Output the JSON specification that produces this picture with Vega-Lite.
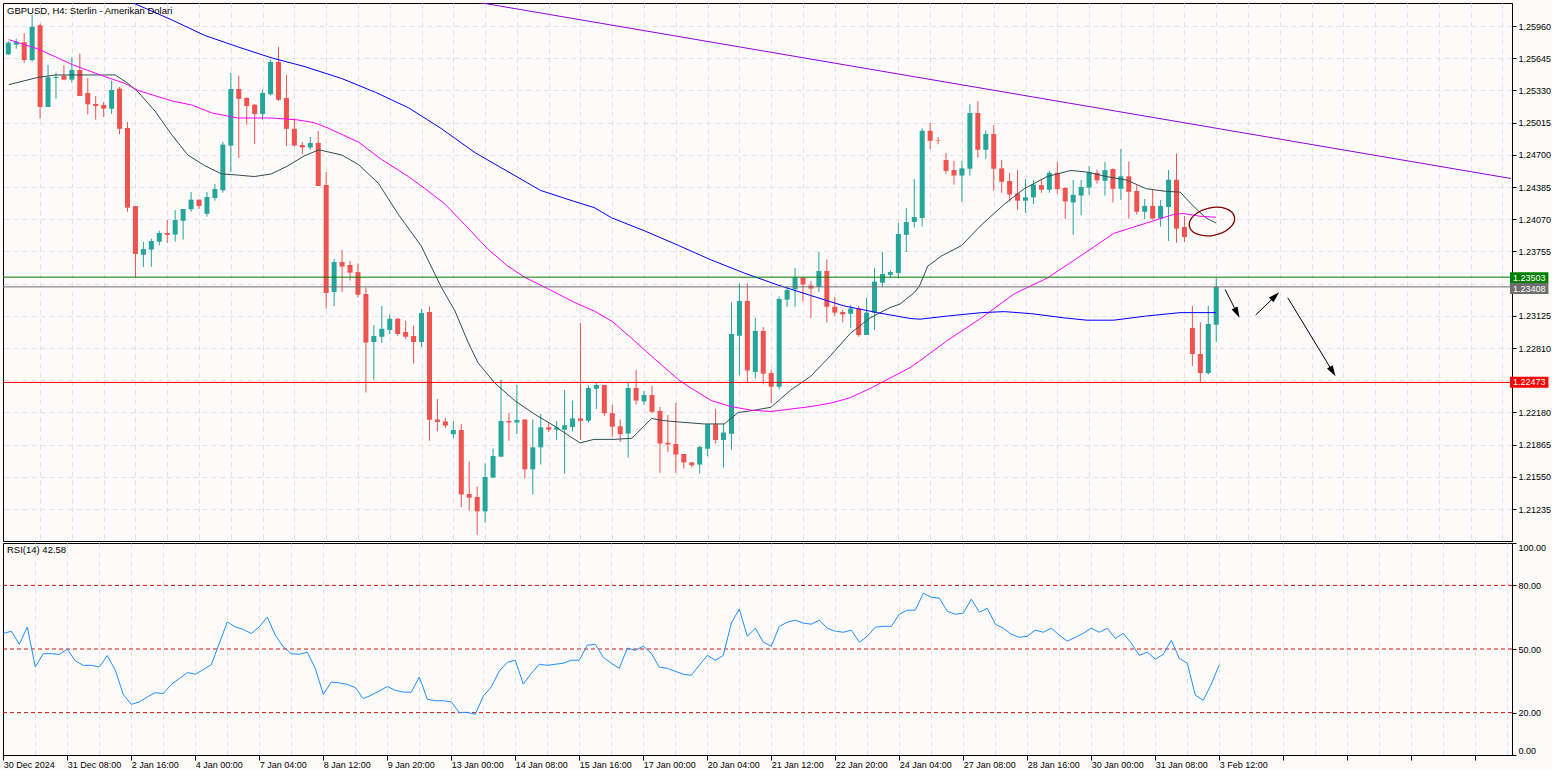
{
"$schema": "https://vega.github.io/schema/vega-lite/v6.json",
"background": "#fdfafa",
"padding": {"left": 0, "top": 2, "right": 0, "bottom": 0},
"spacing": 0,
"config": {
  "view": {"stroke": "#000000", "strokeWidth": 1, "fill": "#fdfafa"},
  "font": "Liberation Sans",
  "axis": {"labelFont": "Liberation Sans", "labelFontSize": 9, "labelColor": "#000000", "tickColor": "#000000", "domainColor": "#000000", "gridColor": "#e4e0e8", "gridDash": [5, 4], "gridWidth": 1, "labelOverlap": false, "labelBound": false, "tickCount": 200}
},
"datasets": {
  "candles": [
{"i":0,"o":1.25683,"h":1.25813,"l":1.25676,"c":1.25797},
{"i":1,"o":1.25777,"h":1.25836,"l":1.25738,"c":1.25806},
{"i":2,"o":1.25801,"h":1.25889,"l":1.25601,"c":1.25627},
{"i":3,"o":1.25627,"h":1.26068,"l":1.25611,"c":1.25953},
{"i":4,"o":1.25967,"h":1.25983,"l":1.25053,"c":1.25168},
{"i":5,"o":1.25168,"h":1.25579,"l":1.25168,"c":1.25458},
{"i":6,"o":1.25451,"h":1.25503,"l":1.25249,"c":1.25461},
{"i":7,"o":1.25474,"h":1.25576,"l":1.25429,"c":1.25435},
{"i":8,"o":1.25435,"h":1.25654,"l":1.25405,"c":1.2553},
{"i":9,"o":1.2553,"h":1.25689,"l":1.25275,"c":1.25275},
{"i":10,"o":1.25305,"h":1.25451,"l":1.25096,"c":1.25194},
{"i":11,"o":1.25197,"h":1.25275,"l":1.25043,"c":1.25177},
{"i":12,"o":1.25187,"h":1.25217,"l":1.2507,"c":1.25151},
{"i":13,"o":1.25151,"h":1.25425,"l":1.25099,"c":1.25334},
{"i":14,"o":1.25347,"h":1.25363,"l":1.24901,"c":1.24955},
{"i":15,"o":1.24962,"h":1.25021,"l":1.24143,"c":1.24183},
{"i":16,"o":1.24199,"h":1.24199,"l":1.23504,"c":1.2373},
{"i":17,"o":1.23722,"h":1.23847,"l":1.23602,"c":1.23778},
{"i":18,"o":1.23773,"h":1.2388,"l":1.23604,"c":1.23857},
{"i":19,"o":1.2385,"h":1.23957,"l":1.23813,"c":1.23935},
{"i":20,"o":1.23935,"h":1.24062,"l":1.23837,"c":1.23917},
{"i":21,"o":1.2392,"h":1.2416,"l":1.2385,"c":1.24062},
{"i":22,"o":1.24055,"h":1.2417,"l":1.2387,"c":1.2417},
{"i":23,"o":1.24167,"h":1.24336,"l":1.24143,"c":1.24261},
{"i":24,"o":1.24261,"h":1.24261,"l":1.2417,"c":1.24199},
{"i":25,"o":1.24123,"h":1.24336,"l":1.24095,"c":1.24287},
{"i":26,"o":1.24277,"h":1.24414,"l":1.24251,"c":1.24365},
{"i":27,"o":1.24352,"h":1.24825,"l":1.24331,"c":1.248},
{"i":28,"o":1.2479,"h":1.255,"l":1.24532,"c":1.25344},
{"i":29,"o":1.25344,"h":1.25474,"l":1.24669,"c":1.25248},
{"i":30,"o":1.25256,"h":1.25262,"l":1.24992,"c":1.25177},
{"i":31,"o":1.2519,"h":1.25197,"l":1.24806,"c":1.25099},
{"i":32,"o":1.25099,"h":1.25339,"l":1.25042,"c":1.25305},
{"i":33,"o":1.25292,"h":1.25632,"l":1.25278,"c":1.25608},
{"i":34,"o":1.25608,"h":1.25755,"l":1.25227,"c":1.25238},
{"i":35,"o":1.25256,"h":1.25481,"l":1.24786,"c":1.24954},
{"i":36,"o":1.24954,"h":1.25056,"l":1.24779,"c":1.2479},
{"i":37,"o":1.24796,"h":1.24825,"l":1.24708,"c":1.24772},
{"i":38,"o":1.24772,"h":1.24874,"l":1.24749,"c":1.24815},
{"i":39,"o":1.24816,"h":1.24933,"l":1.24395,"c":1.24395},
{"i":40,"o":1.24405,"h":1.24532,"l":1.23196,"c":1.23348},
{"i":41,"o":1.23358,"h":1.23681,"l":1.23221,"c":1.23651},
{"i":42,"o":1.23651,"h":1.23769,"l":1.23358,"c":1.23607},
{"i":43,"o":1.23622,"h":1.23661,"l":1.23469,"c":1.23547},
{"i":44,"o":1.23553,"h":1.23638,"l":1.23304,"c":1.23331},
{"i":45,"o":1.23338,"h":1.23402,"l":1.22375,"c":1.22863},
{"i":46,"o":1.22869,"h":1.23035,"l":1.22499,"c":1.22927},
{"i":47,"o":1.2292,"h":1.23221,"l":1.22863,"c":1.22998},
{"i":48,"o":1.22987,"h":1.23139,"l":1.22944,"c":1.23096},
{"i":49,"o":1.23096,"h":1.23105,"l":1.2293,"c":1.22947},
{"i":50,"o":1.22966,"h":1.23074,"l":1.229,"c":1.2292},
{"i":51,"o":1.22927,"h":1.23031,"l":1.22657,"c":1.22869},
{"i":52,"o":1.22869,"h":1.23192,"l":1.2282,"c":1.23152},
{"i":53,"o":1.23162,"h":1.23213,"l":1.21903,"c":1.22108},
{"i":54,"o":1.22111,"h":1.22311,"l":1.21994,"c":1.22086},
{"i":55,"o":1.22091,"h":1.22128,"l":1.22027,"c":1.22051},
{"i":56,"o":1.21967,"h":1.22096,"l":1.21926,"c":1.22008},
{"i":57,"o":1.22008,"h":1.22067,"l":1.21254,"c":1.21377},
{"i":58,"o":1.21382,"h":1.21701,"l":1.21219,"c":1.21346},
{"i":59,"o":1.21353,"h":1.21455,"l":1.20983,"c":1.21212},
{"i":60,"o":1.21212,"h":1.2168,"l":1.21101,"c":1.21548},
{"i":61,"o":1.21542,"h":1.21825,"l":1.21542,"c":1.21753},
{"i":62,"o":1.21747,"h":1.22499,"l":1.21747,"c":1.22096},
{"i":63,"o":1.22096,"h":1.22174,"l":1.21903,"c":1.22081},
{"i":64,"o":1.22081,"h":1.22448,"l":1.21969,"c":1.22106},
{"i":65,"o":1.22111,"h":1.22111,"l":1.21532,"c":1.21623},
{"i":66,"o":1.21623,"h":1.22111,"l":1.21377,"c":1.21838},
{"i":67,"o":1.21838,"h":1.22164,"l":1.2167,"c":1.22034},
{"i":68,"o":1.22034,"h":1.22078,"l":1.21988,"c":1.22011},
{"i":69,"o":1.22011,"h":1.22096,"l":1.2191,"c":1.22034},
{"i":70,"o":1.22011,"h":1.22399,"l":1.21582,"c":1.22055},
{"i":71,"o":1.22037,"h":1.22296,"l":1.21994,"c":1.22121},
{"i":72,"o":1.22121,"h":1.23054,"l":1.2191,"c":1.22098},
{"i":73,"o":1.22098,"h":1.22442,"l":1.22081,"c":1.22419},
{"i":74,"o":1.22412,"h":1.22466,"l":1.22213,"c":1.22448},
{"i":75,"o":1.22448,"h":1.22448,"l":1.22145,"c":1.22172},
{"i":76,"o":1.22172,"h":1.22256,"l":1.21943,"c":1.22041},
{"i":77,"o":1.22044,"h":1.22111,"l":1.21892,"c":1.21967},
{"i":78,"o":1.21973,"h":1.22477,"l":1.21738,"c":1.22419},
{"i":79,"o":1.22419,"h":1.22597,"l":1.22256,"c":1.22296},
{"i":80,"o":1.22287,"h":1.22389,"l":1.22256,"c":1.2235},
{"i":81,"o":1.2235,"h":1.22442,"l":1.22172,"c":1.22186},
{"i":82,"o":1.22194,"h":1.22233,"l":1.21589,"c":1.21876},
{"i":83,"o":1.21882,"h":1.22154,"l":1.21792,"c":1.21866},
{"i":84,"o":1.21871,"h":1.22272,"l":1.21589,"c":1.21768},
{"i":85,"o":1.21773,"h":1.21773,"l":1.2163,"c":1.21691},
{"i":86,"o":1.21691,"h":1.21691,"l":1.2164,"c":1.21663},
{"i":87,"o":1.2167,"h":1.21851,"l":1.21582,"c":1.21841},
{"i":88,"o":1.21825,"h":1.22064,"l":1.21751,"c":1.22064},
{"i":89,"o":1.22064,"h":1.22213,"l":1.21876,"c":1.2191},
{"i":90,"o":1.2191,"h":1.22064,"l":1.2164,"c":1.21983},
{"i":91,"o":1.21971,"h":1.23257,"l":1.21815,"c":1.22947},
{"i":92,"o":1.2293,"h":1.23442,"l":1.22543,"c":1.2327},
{"i":93,"o":1.2327,"h":1.23442,"l":1.22466,"c":1.2259},
{"i":94,"o":1.22576,"h":1.23105,"l":1.22509,"c":1.22977},
{"i":95,"o":1.22977,"h":1.23015,"l":1.22455,"c":1.22559},
{"i":96,"o":1.22565,"h":1.22597,"l":1.22273,"c":1.22431},
{"i":97,"o":1.22431,"h":1.23314,"l":1.22405,"c":1.2329},
{"i":98,"o":1.23283,"h":1.23409,"l":1.23213,"c":1.23377},
{"i":99,"o":1.23385,"h":1.23594,"l":1.23213,"c":1.235},
{"i":100,"o":1.235,"h":1.235,"l":1.23267,"c":1.23432},
{"i":101,"o":1.23422,"h":1.23465,"l":1.23105,"c":1.23392},
{"i":102,"o":1.23409,"h":1.23749,"l":1.23358,"c":1.23563},
{"i":103,"o":1.23563,"h":1.23678,"l":1.23061,"c":1.23213},
{"i":104,"o":1.23213,"h":1.23309,"l":1.23123,"c":1.23156},
{"i":105,"o":1.23162,"h":1.23182,"l":1.23061,"c":1.23139},
{"i":106,"o":1.23145,"h":1.23231,"l":1.23006,"c":1.23196},
{"i":107,"o":1.23196,"h":1.23221,"l":1.2292,"c":1.22937},
{"i":108,"o":1.22937,"h":1.23301,"l":1.22937,"c":1.23156},
{"i":109,"o":1.23156,"h":1.23594,"l":1.22987,"c":1.23459},
{"i":110,"o":1.23449,"h":1.23749,"l":1.23409,"c":1.23534},
{"i":111,"o":1.23526,"h":1.2357,"l":1.235,"c":1.23553},
{"i":112,"o":1.23544,"h":1.24033,"l":1.23493,"c":1.23925},
{"i":113,"o":1.23917,"h":1.2418,"l":1.23749,"c":1.24043},
{"i":114,"o":1.24043,"h":1.24463,"l":1.23988,"c":1.24091},
{"i":115,"o":1.24082,"h":1.24958,"l":1.23999,"c":1.24935},
{"i":116,"o":1.24935,"h":1.25011,"l":1.24757,"c":1.24837},
{"i":117,"o":1.24845,"h":1.24874,"l":1.24803,"c":1.2484},
{"i":118,"o":1.24649,"h":1.24719,"l":1.24513,"c":1.24543},
{"i":119,"o":1.24551,"h":1.24639,"l":1.24409,"c":1.24497},
{"i":120,"o":1.24497,"h":1.24639,"l":1.2424,"c":1.24567},
{"i":121,"o":1.24564,"h":1.25194,"l":1.24497,"c":1.25109},
{"i":122,"o":1.25109,"h":1.25224,"l":1.24672,"c":1.24749},
{"i":123,"o":1.24749,"h":1.24938,"l":1.24659,"c":1.24903},
{"i":124,"o":1.24903,"h":1.24992,"l":1.24349,"c":1.24564},
{"i":125,"o":1.24567,"h":1.24649,"l":1.24328,"c":1.24436},
{"i":126,"o":1.24444,"h":1.24522,"l":1.24244,"c":1.24312},
{"i":127,"o":1.24321,"h":1.24551,"l":1.24163,"c":1.24251},
{"i":128,"o":1.24251,"h":1.24463,"l":1.24133,"c":1.24284},
{"i":129,"o":1.24284,"h":1.24453,"l":1.24219,"c":1.24409},
{"i":130,"o":1.24403,"h":1.24453,"l":1.24328,"c":1.24359},
{"i":131,"o":1.24359,"h":1.24543,"l":1.24328,"c":1.24524},
{"i":132,"o":1.24524,"h":1.24634,"l":1.24318,"c":1.24365},
{"i":133,"o":1.24375,"h":1.24385,"l":1.24072,"c":1.24244},
{"i":134,"o":1.24234,"h":1.24453,"l":1.23917,"c":1.24308},
{"i":135,"o":1.24301,"h":1.24453,"l":1.24109,"c":1.24385},
{"i":136,"o":1.24379,"h":1.2459,"l":1.24308,"c":1.24532},
{"i":137,"o":1.24524,"h":1.24554,"l":1.24419,"c":1.2445},
{"i":138,"o":1.24446,"h":1.2463,"l":1.24301,"c":1.24551},
{"i":139,"o":1.24561,"h":1.24567,"l":1.24234,"c":1.24368},
{"i":140,"o":1.24368,"h":1.24757,"l":1.24258,"c":1.2449},
{"i":141,"o":1.2449,"h":1.24634,"l":1.24076,"c":1.24338},
{"i":142,"o":1.24346,"h":1.24403,"l":1.24116,"c":1.24143},
{"i":143,"o":1.24143,"h":1.24268,"l":1.24069,"c":1.242},
{"i":144,"o":1.242,"h":1.24359,"l":1.24065,"c":1.24076},
{"i":145,"o":1.24076,"h":1.24258,"l":1.23999,"c":1.242},
{"i":146,"o":1.24189,"h":1.24551,"l":1.23857,"c":1.24456},
{"i":147,"o":1.24456,"h":1.24713,"l":1.2384,"c":1.23978},
{"i":148,"o":1.23994,"h":1.24101,"l":1.23847,"c":1.23896},
{"i":149,"o":1.23006,"h":1.23223,"l":1.22634,"c":1.22751},
{"i":150,"o":1.22751,"h":1.23061,"l":1.22475,"c":1.22565},
{"i":151,"o":1.22565,"h":1.23223,"l":1.2255,"c":1.23045},
{"i":152,"o":1.23038,"h":1.23493,"l":1.22869,"c":1.23409}
  ],
  "ma": [
{"ma":"a","i":0.05,"v":1.25386},{"ma":"a","i":3.71,"v":1.25457},{"ma":"a","i":5.96,"v":1.25481},{"ma":"a","i":13.46,"v":1.25481},{"ma":"a","i":15.09,"v":1.25397},{"ma":"a","i":16.34,"v":1.25314},{"ma":"a","i":18.46,"v":1.25128},{"ma":"a","i":20.59,"v":1.24894},{"ma":"a","i":22.59,"v":1.24698},{"ma":"a","i":24.71,"v":1.24594},{"ma":"a","i":26.84,"v":1.24513},{"ma":"a","i":28.84,"v":1.24502},{"ma":"a","i":30.96,"v":1.24487},{"ma":"a","i":33.09,"v":1.24513},{"ma":"a","i":35.09,"v":1.24588},{"ma":"a","i":37.21,"v":1.24688},{"ma":"a","i":39.09,"v":1.24749},{"ma":"a","i":41.96,"v":1.24698},{"ma":"a","i":44.09,"v":1.24604},{"ma":"a","i":46.59,"v":1.24419},{"ma":"a","i":49.09,"v":1.24116},{"ma":"a","i":51.96,"v":1.23808},{"ma":"a","i":54.46,"v":1.23409},{"ma":"a","i":56.21,"v":1.23172},{"ma":"a","i":57.84,"v":1.22869},{"ma":"a","i":59.09,"v":1.22667},{"ma":"a","i":61.21,"v":1.22468},{"ma":"a","i":63.71,"v":1.22296},{"ma":"a","i":66.21,"v":1.22164},{"ma":"a","i":68.71,"v":1.22047},{"ma":"a","i":70.71,"v":1.21943},{"ma":"a","i":71.96,"v":1.21882},{"ma":"a","i":73.71,"v":1.21916},{"ma":"a","i":76.21,"v":1.21916},{"ma":"a","i":78.46,"v":1.21927},{"ma":"a","i":80.96,"v":1.22121},{"ma":"a","i":82.21,"v":1.22102},{"ma":"a","i":84.34,"v":1.22086},{"ma":"a","i":87.59,"v":1.22067},{"ma":"a","i":90.09,"v":1.22067},{"ma":"a","i":91.84,"v":1.22179},{"ma":"a","i":93.46,"v":1.22196},{"ma":"a","i":95.96,"v":1.2223},{"ma":"a","i":98.46,"v":1.22399},{"ma":"a","i":100.96,"v":1.22533},{"ma":"a","i":103.46,"v":1.22735},{"ma":"a","i":105.96,"v":1.22954},{"ma":"a","i":108.46,"v":1.23105},{"ma":"a","i":110.96,"v":1.23206},{"ma":"a","i":112.21,"v":1.2324},{"ma":"a","i":114.09,"v":1.23358},{"ma":"a","i":114.71,"v":1.23426},{"ma":"a","i":115.71,"v":1.23612},{"ma":"a","i":117.46,"v":1.23712},{"ma":"a","i":119.96,"v":1.23813},{"ma":"a","i":122.46,"v":1.24015},{"ma":"a","i":125.34,"v":1.24217},{"ma":"a","i":127.84,"v":1.24368},{"ma":"a","i":130.71,"v":1.24487},{"ma":"a","i":133.71,"v":1.24547},{"ma":"a","i":135.71,"v":1.24531},{"ma":"a","i":138.21,"v":1.24487},{"ma":"a","i":140.71,"v":1.24453},{"ma":"a","i":143.21,"v":1.24368},{"ma":"a","i":145.71,"v":1.24342},{"ma":"a","i":147.46,"v":1.24335},{"ma":"a","i":149.09,"v":1.242},{"ma":"a","i":150.71,"v":1.24082},{"ma":"a","i":151.96,"v":1.24033},
{"ma":"b","i":0.05,"v":1.25827},{"ma":"b","i":3.84,"v":1.25733},{"ma":"b","i":8.09,"v":1.25581},{"ma":"b","i":12.21,"v":1.25463},{"ma":"b","i":14.71,"v":1.25397},{"ma":"b","i":16.34,"v":1.25329},{"ma":"b","i":20.59,"v":1.25227},{"ma":"b","i":23.09,"v":1.25187},{"ma":"b","i":25.59,"v":1.2511},{"ma":"b","i":28.84,"v":1.2506},{"ma":"b","i":33.09,"v":1.2506},{"ma":"b","i":36.34,"v":1.25042},{"ma":"b","i":38.46,"v":1.25015},{"ma":"b","i":40.34,"v":1.24958},{"ma":"b","i":44.09,"v":1.24823},{"ma":"b","i":46.96,"v":1.24655},{"ma":"b","i":50.34,"v":1.24487},{"ma":"b","i":52.46,"v":1.24368},{"ma":"b","i":54.96,"v":1.24217},{"ma":"b","i":57.46,"v":1.24015},{"ma":"b","i":60.34,"v":1.23778},{"ma":"b","i":62.84,"v":1.23612},{"ma":"b","i":64.96,"v":1.23503},{"ma":"b","i":67.84,"v":1.23392},{"ma":"b","i":71.21,"v":1.23257},{"ma":"b","i":73.71,"v":1.23172},{"ma":"b","i":75.96,"v":1.23072},{"ma":"b","i":78.46,"v":1.22903},{"ma":"b","i":81.34,"v":1.22702},{"ma":"b","i":84.34,"v":1.22499},{"ma":"b","i":85.96,"v":1.22415},{"ma":"b","i":88.46,"v":1.22296},{"ma":"b","i":90.96,"v":1.22237},{"ma":"b","i":93.46,"v":1.22202},{"ma":"b","i":95.96,"v":1.22189},{"ma":"b","i":98.46,"v":1.22213},{"ma":"b","i":100.96,"v":1.22237},{"ma":"b","i":103.46,"v":1.2227},{"ma":"b","i":105.96,"v":1.22324},{"ma":"b","i":108.46,"v":1.22415},{"ma":"b","i":110.96,"v":1.22516},{"ma":"b","i":113.46,"v":1.22617},{"ma":"b","i":114.71,"v":1.22685},{"ma":"b","i":118.21,"v":1.22886},{"ma":"b","i":122.46,"v":1.23105},{"ma":"b","i":126.59,"v":1.23341},{"ma":"b","i":130.71,"v":1.23493},{"ma":"b","i":134.96,"v":1.23712},{"ma":"b","i":139.09,"v":1.23931},{"ma":"b","i":143.21,"v":1.24032},{"ma":"b","i":146.59,"v":1.24116},{"ma":"b","i":147.84,"v":1.24126},{"ma":"b","i":149.96,"v":1.24099},{"ma":"b","i":151.96,"v":1.24089},
{"ma":"c","i":12.21,"v":1.26302},{"ma":"c","i":15.96,"v":1.26177},{"ma":"c","i":20.59,"v":1.26019},{"ma":"c","i":24.71,"v":1.25868},{"ma":"c","i":28.84,"v":1.25757},{"ma":"c","i":33.09,"v":1.25649},{"ma":"c","i":37.21,"v":1.25565},{"ma":"c","i":41.96,"v":1.25446},{"ma":"c","i":46.21,"v":1.25311},{"ma":"c","i":50.34,"v":1.25161},{"ma":"c","i":54.46,"v":1.24958},{"ma":"c","i":58.71,"v":1.24722},{"ma":"c","i":62.84,"v":1.24537},{"ma":"c","i":66.96,"v":1.24352},{"ma":"c","i":71.21,"v":1.24244},{"ma":"c","i":73.71,"v":1.24184},{"ma":"c","i":75.96,"v":1.24082},{"ma":"c","i":80.09,"v":1.23955},{"ma":"c","i":84.34,"v":1.23813},{"ma":"c","i":88.46,"v":1.23671},{"ma":"c","i":92.59,"v":1.23544},{"ma":"c","i":96.84,"v":1.23426},{"ma":"c","i":100.96,"v":1.23324},{"ma":"c","i":105.09,"v":1.23223},{"ma":"c","i":109.34,"v":1.23156},{"ma":"c","i":113.46,"v":1.23099},{"ma":"c","i":114.71,"v":1.23092},{"ma":"c","i":118.21,"v":1.23123},{"ma":"c","i":122.46,"v":1.23156},{"ma":"c","i":125.34,"v":1.23166},{"ma":"c","i":128.71,"v":1.23146},{"ma":"c","i":132.84,"v":1.23105},{"ma":"c","i":135.71,"v":1.23082},{"ma":"c","i":139.09,"v":1.23082},{"ma":"c","i":143.21,"v":1.23123},{"ma":"c","i":147.46,"v":1.23156},{"ma":"c","i":151.96,"v":1.23156}
  ],
  "rsi": [
{"i":0,"rsi":57.3},{"i":1,"rsi":58.4},{"i":2,"rsi":52.2},{"i":3,"rsi":60.4},{"i":4,"rsi":41.5},{"i":5,"rsi":47.8},{"i":6,"rsi":47.8},{"i":7,"rsi":47.4},{"i":8,"rsi":49.9},{"i":9,"rsi":44.4},
{"i":10,"rsi":42.3},{"i":11,"rsi":42.3},{"i":12,"rsi":41.5},{"i":13,"rsi":46.9},{"i":14,"rsi":40},{"i":15,"rsi":28.5},{"i":16,"rsi":23.9},{"i":17,"rsi":25},{"i":18,"rsi":27.4},{"i":19,"rsi":29.4},
{"i":20,"rsi":29},{"i":21,"rsi":33.3},{"i":22,"rsi":36},{"i":23,"rsi":38.9},{"i":24,"rsi":38.1},{"i":25,"rsi":40.3},{"i":26,"rsi":42.6},{"i":27,"rsi":52.6},{"i":28,"rsi":62.8},{"i":29,"rsi":60.4},
{"i":30,"rsi":59.2},{"i":31,"rsi":57.3},{"i":32,"rsi":60.4},{"i":33,"rsi":65.1},{"i":34,"rsi":56.5},{"i":35,"rsi":51},{"i":36,"rsi":47.8},{"i":37,"rsi":47.5},{"i":38,"rsi":48.5},{"i":39,"rsi":40.8},
{"i":40,"rsi":28.6},{"i":41,"rsi":34.4},{"i":42,"rsi":34},{"i":43,"rsi":33.3},{"i":44,"rsi":31.8},{"i":45,"rsi":26.6},{"i":46,"rsi":28.2},{"i":47,"rsi":30.2},{"i":48,"rsi":32.3},{"i":49,"rsi":30.5},
{"i":50,"rsi":29.7},{"i":51,"rsi":29.6},{"i":52,"rsi":36.8},{"i":53,"rsi":26.3},{"i":54,"rsi":25.6},{"i":55,"rsi":25.6},{"i":56,"rsi":25},{"i":57,"rsi":20.1},{"i":58,"rsi":20.1},{"i":59,"rsi":19.2},
{"i":60,"rsi":27.8},{"i":61,"rsi":32.1},{"i":62,"rsi":39.6},{"i":63,"rsi":43.7},{"i":64,"rsi":44.7},{"i":65,"rsi":33.4},{"i":66,"rsi":38.5},{"i":67,"rsi":42.8},{"i":68,"rsi":42.3},{"i":69,"rsi":42.8},
{"i":70,"rsi":43.3},{"i":71,"rsi":44.7},{"i":72,"rsi":44.7},{"i":73,"rsi":51.8},{"i":74,"rsi":52.2},{"i":75,"rsi":46.1},{"i":76,"rsi":43.3},{"i":77,"rsi":40.9},{"i":78,"rsi":50.4},{"i":79,"rsi":49.4},
{"i":80,"rsi":51.3},{"i":81,"rsi":48},{"i":82,"rsi":41.4},{"i":83,"rsi":40.9},{"i":84,"rsi":39.5},{"i":85,"rsi":38.1},{"i":86,"rsi":37.6},{"i":87,"rsi":42.3},{"i":88,"rsi":47},{"i":89,"rsi":44.7},
{"i":90,"rsi":47},{"i":91,"rsi":62.2},{"i":92,"rsi":68.8},{"i":93,"rsi":56},{"i":94,"rsi":59.8},{"i":95,"rsi":53.2},{"i":96,"rsi":51.3},{"i":97,"rsi":60.7},{"i":98,"rsi":62.6},{"i":99,"rsi":63.6},
{"i":100,"rsi":62.2},{"i":101,"rsi":61.7},{"i":102,"rsi":63.6},{"i":103,"rsi":59.8},{"i":104,"rsi":58.4},{"i":105,"rsi":57.9},{"i":106,"rsi":58.9},{"i":107,"rsi":53.2},{"i":108,"rsi":56},{"i":109,"rsi":60.3},
{"i":110,"rsi":60.7},{"i":111,"rsi":60.7},{"i":112,"rsi":66.4},{"i":113,"rsi":68.3},{"i":114,"rsi":68.3},{"i":115,"rsi":76.3},{"i":116,"rsi":74.4},{"i":117,"rsi":74},{"i":118,"rsi":67.8},{"i":119,"rsi":66.4},
{"i":120,"rsi":66.9},{"i":121,"rsi":73.5},{"i":122,"rsi":67.4},{"i":123,"rsi":69.2},{"i":124,"rsi":61.7},{"i":125,"rsi":59.8},{"i":126,"rsi":57},{"i":127,"rsi":55.5},{"i":128,"rsi":56},{"i":129,"rsi":58.9},
{"i":130,"rsi":57.9},{"i":131,"rsi":59.8},{"i":132,"rsi":56.5},{"i":133,"rsi":53.7},{"i":134,"rsi":55.5},{"i":135,"rsi":57.4},{"i":136,"rsi":59.8},{"i":137,"rsi":57.9},{"i":138,"rsi":59.8},{"i":139,"rsi":55},
{"i":140,"rsi":57.4},{"i":141,"rsi":52.7},{"i":142,"rsi":47},{"i":143,"rsi":48.5},{"i":144,"rsi":45.2},{"i":145,"rsi":47.5},{"i":146,"rsi":54.1},{"i":147,"rsi":45.6},{"i":148,"rsi":43.3},{"i":149,"rsi":28.2},
{"i":150,"rsi":25.8},{"i":151,"rsi":33.4},{"i":152,"rsi":42.58}
  ],
  "levels": [
{"name":"g","p":1.23503,"lp":1.23498},
{"name":"k","p":1.23408,"lp":1.23392},
{"name":"r","p":1.22473,"lp":1.22474}
  ],
  "trend": [{"i":57.21,"p":1.26217},{"i":189.09,"p":1.24468}],
  "arrows": [
{"i1":153.12,"p1":1.23382,"i2":154.62,"p2":1.23153},
{"i1":156.96,"p1":1.23133,"i2":159.42,"p2":1.23317},
{"i1":161.0,"p1":1.23302,"i2":166.65,"p2":1.22579}
  ],
  "rsilevels": [{"v":80},{"v":50},{"v":20}]
},
"vconcat": [
{
  "width": 1509,
  "height": 538,
  "title": {"text": "GBPUSD, H4:  Sterlin - Amerikan Dolari", "anchor": "start", "frame": "group", "offset": -12, "dx": 4, "fontSize": 9.5, "fontWeight": "normal", "font": "Liberation Sans", "color": "#000000"},
  "layer": [
    {
      "data": {"name": "candles"},
      "mark": {"type": "rule", "strokeWidth": 1, "clip": true},
      "encoding": {
        "x": {"field": "i", "type": "quantitative", "title": null,
              "scale": {"domain": [-0.0375, 188.5875], "nice": false, "zero": false},
              "axis": {"orient": "bottom", "values": [0,4,8,12,16,20,24,28,32,36,40,44,48,52,56,60,64,68,72,76,80,84,88,92,96,100,104,108,112,116,120,124,128,132,136,140,144,148,152,156,160,164,168,172,176,180,184,188], "tickCount": 200, "grid": true, "labels": false, "ticks": false, "domain": false, "title": null,
                       "gridOpacity": {"condition": {"test": "datum.value == 0", "value": 0}, "value": 1}}},
        "y": {"field": "l", "type": "quantitative", "title": null,
              "scale": {"domain": [1.20922, 1.26185], "nice": false, "zero": false},
              "axis": {"orient": "right", "values": [1.21235,1.2155,1.21865,1.2218,1.22495,1.2281,1.23125,1.2344,1.23755,1.2407,1.24385,1.247,1.25015,1.2533,1.25645,1.2596], "tickCount": 200, "format": ".5f", "grid": true, "tickSize": 4, "labelPadding": 2, "labelOverlap": false, "labelFlush": false, "labelBound": false, "title": null,
                       "labelExpr": "datum.value == 1.2344 || datum.value == 1.22495 ? '' : datum.label",
                       "tickOpacity": {"condition": {"test": "datum.value == 1.2344 || datum.value == 1.22495", "value": 0}, "value": 1}}},
        "y2": {"field": "h"},
        "color": {"condition": {"test": "datum.c >= datum.o", "value": "#26a69a"}, "value": "#ef5350"}
      }
    },
    {
      "data": {"name": "candles"},
      "mark": {"type": "bar", "size": 5, "clip": true},
      "encoding": {
        "x": {"field": "i", "type": "quantitative", "title": null},
        "y": {"field": "o", "type": "quantitative", "title": null},
        "y2": {"field": "c"},
        "color": {"condition": {"test": "datum.c >= datum.o", "value": "#26a69a"}, "value": "#ef5350"}
      }
    },
    {
      "data": {"name": "ma"},
      "mark": {"type": "line", "strokeWidth": 1, "clip": true},
      "encoding": {
        "x": {"field": "i", "type": "quantitative", "title": null},
        "y": {"field": "v", "type": "quantitative", "title": null},
        "color": {"field": "ma", "type": "nominal", "legend": null, "scale": {"domain": ["a", "b", "c"], "range": ["#2f4f4f", "#ff00ff", "#0000ff"]}}
      }
    },
    {
      "data": {"name": "trend"},
      "mark": {"type": "line", "strokeWidth": 1, "color": "#9400d3", "clip": true},
      "encoding": {
        "x": {"field": "i", "type": "quantitative", "title": null},
        "y": {"field": "p", "type": "quantitative", "title": null}
      }
    },
    {
      "data": {"name": "levels"},
      "mark": {"type": "rule", "strokeWidth": 1},
      "encoding": {
        "y": {"field": "p", "type": "quantitative", "title": null},
        "stroke": {"field": "name", "type": "nominal", "legend": null, "scale": {"domain": ["g", "k", "r"], "range": ["#008000", "#6e6e6e", "#ff0000"]}}
      }
    },
    {
      "data": {"name": "arrows"},
      "mark": {"type": "rule", "strokeWidth": 1, "color": "#000000"},
      "encoding": {
        "x": {"field": "i1", "type": "quantitative", "title": null},
        "y": {"field": "p1", "type": "quantitative", "title": null},
        "x2": {"field": "i2"},
        "y2": {"field": "p2"}
      }
    },
    {
      "data": {"values": [{"i": 154.62, "p": 1.23153}]},
      "mark": {"type": "point", "shape": "M0,-1L0.6,1L-0.6,1Z", "filled": true, "color": "#000000", "opacity": 1, "size": 121, "angle": 153},
      "encoding": {
        "x": {"field": "i", "type": "quantitative", "title": null},
        "y": {"field": "p", "type": "quantitative", "title": null}
      }
    },
    {
      "data": {"values": [{"i": 159.42, "p": 1.23317}]},
      "mark": {"type": "point", "shape": "M0,-1L0.6,1L-0.6,1Z", "filled": true, "color": "#000000", "opacity": 1, "size": 121, "angle": 46},
      "encoding": {
        "x": {"field": "i", "type": "quantitative", "title": null},
        "y": {"field": "p", "type": "quantitative", "title": null}
      }
    },
    {
      "data": {"values": [{"i": 166.65, "p": 1.22579}]},
      "mark": {"type": "point", "shape": "M0,-1L0.6,1L-0.6,1Z", "filled": true, "color": "#000000", "opacity": 1, "size": 121, "angle": 149},
      "encoding": {
        "x": {"field": "i", "type": "quantitative", "title": null},
        "y": {"field": "p", "type": "quantitative", "title": null}
      }
    },
    {
      "data": {"values": [{"i": 151.46, "p": 1.24047}]},
      "mark": {"type": "point", "shape": "M-1,0A1,0.6,0,1,1,1,0A1,0.6,0,1,1,-1,0Z", "filled": false, "color": "#800000", "opacity": 1, "strokeWidth": 1.3, "size": 2116, "angle": -12},
      "encoding": {
        "x": {"field": "i", "type": "quantitative", "title": null},
        "y": {"field": "p", "type": "quantitative", "title": null}
      }
    },
    {
      "data": {"name": "levels"},
      "mark": {"type": "rect", "yOffset": -5.5, "y2Offset": 5.5},
      "encoding": {
        "x": {"datum": 188.96},
        "x2": {"datum": 193.8},
        "y": {"field": "lp", "type": "quantitative", "title": null},
        "y2": {"field": "lp"},
        "fill": {"field": "name", "type": "nominal", "legend": null, "scale": {"domain": ["g", "k", "r"], "range": ["#008000", "#6e6e6e", "#ff0000"]}}
      }
    },
    {
      "data": {"name": "levels"},
      "mark": {"type": "text", "color": "#ffffff", "fontSize": 9, "font": "Liberation Sans", "align": "center", "baseline": "middle"},
      "encoding": {
        "x": {"datum": 191.4},
        "y": {"field": "lp", "type": "quantitative", "title": null},
        "text": {"field": "p", "type": "quantitative", "format": ".5f"}
      }
    }
  ]
},
{
  "width": 1509,
  "height": 212,
  "title": {"text": "RSI(14) 42.58", "anchor": "start", "frame": "group", "offset": -12, "dx": 4, "fontSize": 9.5, "fontWeight": "normal", "font": "Liberation Sans", "color": "#000000"},
  "layer": [
    {
      "data": {"name": "rsilevels"},
      "mark": {"type": "rule", "color": "#c81414", "strokeDash": [4, 3], "strokeWidth": 1},
      "encoding": {
        "y": {"field": "v", "type": "quantitative", "title": null,
              "scale": {"domain": [0, 100], "nice": false, "zero": false},
              "axis": {"orient": "right", "values": [0, 20, 50, 80, 100], "tickCount": 200, "format": ".2f", "grid": false, "labelFlush": true, "tickSize": 4, "labelPadding": 2, "title": null}}
      }
    },
    {
      "data": {"name": "rsi"},
      "mark": {"type": "line", "color": "#1e90ff", "strokeWidth": 1},
      "encoding": {
        "x": {"field": "i", "type": "quantitative", "title": null,
              "scale": {"domain": [-0.0375, 188.5875], "nice": false, "zero": false},
              "axis": {"orient": "bottom", "values": [0,4,8,12,16,20,24,28,32,36,40,44,48,52,56,60,64,68,72,76,80,84,88,92,96,100,104,108,112,116,120,124,128,132,136,140,144,148,152,156,160,164,168,172,176,180,184,188], "tickCount": 200, "grid": true, "domain": true, "tickSize": 5, "labelPadding": 0, "labelAlign": "left", "labelOffset": 0, "labelOverlap": false, "labelFlush": false, "labelBound": false, "title": null,
                       "gridOpacity": {"condition": {"test": "datum.value == 0", "value": 0}, "value": 1},
                       "tickOpacity": {"condition": {"test": "datum.value % 8 != 0", "value": 0}, "value": 1},
                       "labelExpr": "datum.value % 8 == 0 && datum.value <= 152 ? ['30 Dec 2024','31 Dec 08:00','2 Jan 16:00','4 Jan 00:00','7 Jan 04:00','8 Jan 12:00','9 Jan 20:00','13 Jan 00:00','14 Jan 08:00','15 Jan 16:00','17 Jan 00:00','20 Jan 04:00','21 Jan 12:00','22 Jan 20:00','24 Jan 04:00','27 Jan 08:00','28 Jan 16:00','30 Jan 00:00','31 Jan 08:00','3 Feb 12:00'][datum.value / 8] : ''"}},
        "y": {"field": "rsi", "type": "quantitative", "title": null}
      }
    }
  ]
}
]
}
